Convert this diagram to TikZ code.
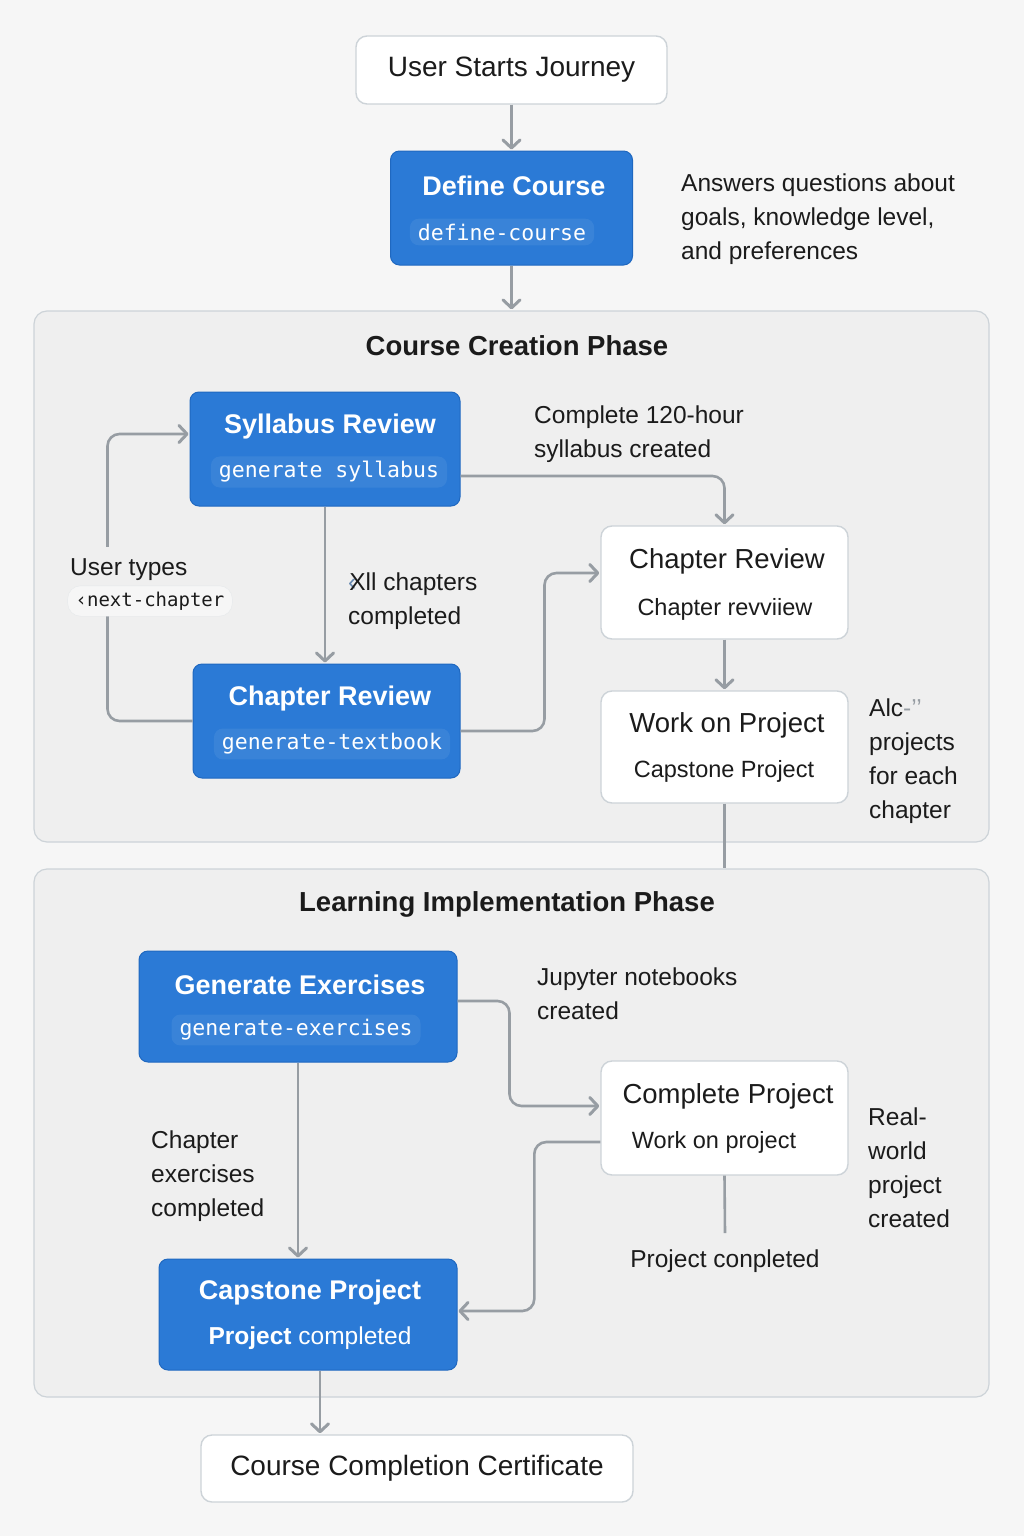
\documentclass[tikz,border=0pt]{standalone}
\usepackage{fontspec}
\setmainfont{Liberation Sans}
\setmonofont{DejaVu Sans Mono}
\usetikzlibrary{arrows.meta}
\definecolor{FlowBlue}{HTML}{2B7AD6}
\definecolor{FlowBlueEdge}{HTML}{1F68C0}
\definecolor{PageGray}{HTML}{F6F6F6}
\definecolor{PhaseGray}{HTML}{EFEFEF}
\definecolor{EdgeGray}{HTML}{CDD3D8}
\definecolor{LinkGray}{HTML}{979DA3}
\definecolor{InkBlack}{HTML}{1B1B1B}

\tikzset{
  bluebox/.style={draw=FlowBlueEdge, fill=FlowBlue, rounded corners=9pt, line width=1pt},
  whitebox/.style={draw=EdgeGray, fill=white, rounded corners=11pt, line width=1.4pt},
  phasebox/.style={draw=EdgeGray, fill=PhaseGray, rounded corners=13pt, line width=1.2pt},
  bluetitle/.style={text=white, font=\fontsize{27}{32}\selectfont\bfseries},
  bluecode/.style={text=white, font=\fontsize{21.5}{26}\selectfont\ttfamily, fill=white, fill opacity=0.07, text opacity=1, rounded corners=9pt, inner xsep=8pt, inner ysep=5pt},
  whitetitle/.style={text=InkBlack, font=\fontsize{27.5}{32}\selectfont},
  whitesub/.style={text=InkBlack, font=\fontsize{23.5}{28}\selectfont},
  phasetitle/.style={text=InkBlack, font=\fontsize{27.5}{32}\selectfont\bfseries},
  note/.style={text=InkBlack, font=\fontsize{24.5}{34}\selectfont, align=left, anchor=north west, inner sep=0pt},
  link/.style={draw=LinkGray, line width=2.6pt, rounded corners=12pt, -{Straight Barb[length=8pt,width=17pt,line width=3pt,round]}, shorten >=1pt},
  plainlink/.style={draw=LinkGray, line width=2.6pt},
}

\begin{document}
\begin{tikzpicture}[x=1pt, y=-1pt]
  \path[use as bounding box, fill=PageGray] (0,0) rectangle (1024,1536);

  % top of the journey
  \node[whitebox, minimum width=311pt, minimum height=68pt, font=\fontsize{28}{32}\selectfont, text=InkBlack] (start) at (511.5,70) {User Starts Journey};
  \node[bluebox, minimum width=242pt, minimum height=114pt] (define) at (511.5,208) {};
  \node[bluetitle] (defineT) at (514,186) {Define Course};
  \node[bluecode] (defineC) at (502,232) {define-course};
  \node[note] (goalsN) at (681,174) {Answers questions about\\goals, knowledge level,\\and preferences};

  % course creation phase
  \node[phasebox, minimum width=955pt, minimum height=531pt] (phaseA) at (511.5,576.5) {};
  \node[phasetitle] (phaseAT) at (517,346) {Course Creation Phase};

  \node[bluebox, minimum width=270pt, minimum height=114pt] (syl) at (325,449) {};
  \node[bluetitle] (sylT) at (330,427) {Syllabus Review};
  \node[bluecode] (sylC) at (329,472) {generate syllabus};
  \node[note] (sylN) at (534,406) {Complete 120-hour\\syllabus created};

  \node[bluebox, minimum width=267pt, minimum height=114pt] (chapB) at (326.5,721) {};
  \node[bluetitle] (chapBT) at (330,699) {Chapter Review};
  \node[bluecode] (chapBC) at (332,744) {generate-textbook};
  \node[note] (allN) at (348,573) {{\color{LinkGray!60!FlowBlueEdge}‹}\kern-7pt Xll chapters\\completed};

  \node[whitebox, minimum width=247pt, minimum height=113pt] (chapW) at (724.5,582.5) {};
  \node[whitetitle] (chapWT) at (727,561) {Chapter Review};
  \node[whitesub] (chapWS) at (725,609) {Chapter revviiew};

  \node[whitebox, minimum width=247pt, minimum height=112pt] (work) at (724.5,747) {};
  \node[whitetitle] (workT) at (727,725) {Work on Project};
  \node[whitesub] (workS) at (724,771) {Capstone Project};
  \node[note] (workN) at (869,699) {Alc{\color{LinkGray}-’’}\\projects\\for each\\chapter};

  % learning implementation phase
  \node[phasebox, minimum width=955pt, minimum height=528pt] (phaseB) at (511.5,1133) {};
  \node[phasetitle] (phaseBT) at (507,904) {Learning Implementation Phase};

  \node[bluebox, minimum width=318pt, minimum height=111pt] (genex) at (298,1006.5) {};
  \node[bluetitle] (genexT) at (300,985) {Generate Exercises};
  \node[bluecode] (genexC) at (296,1030) {generate-exercises};
  \node[note] (genexN) at (537,968) {Jupyter notebooks\\created};

  \node[whitebox, minimum width=247pt, minimum height=114pt] (comp) at (724.5,1118) {};
  \node[whitetitle] (compT) at (728,1096) {Complete Project};
  \node[whitesub] (compS) at (714,1142) {Work on project};
  \node[note] (compN) at (868,1108) {Real-\\world\\project\\created};
  \node[whitesub, font=\fontsize{24.5}{30}\selectfont] (pdone) at (725,1261) {Project conpleted};

  \node[note] (exN) at (151,1131) {Chapter\\exercises\\completed};
  \node[bluebox, minimum width=298pt, minimum height=111pt] (cap) at (308,1314.5) {};
  \node[bluetitle] (capT) at (310,1293) {Capstone Project};
  \node[text=white, font=\fontsize{24.5}{28}\selectfont] (capS) at (310,1338) {\textbf{Project} completed};

  \node[whitebox, minimum width=432pt, minimum height=67pt, font=\fontsize{28}{32}\selectfont, text=InkBlack] (cert) at (417,1468.5) {Course Completion Certificate};

  % connectors
  \draw[link] (start.south) -- (define.north);
  \draw[link] (define.south) -- (phaseA.north);
  \draw[link] ([yshift=-27pt]syl.east) -| (chapW.north);
  \draw[link] (syl.south) -- (syl.south |- chapB.north);
  \draw[link] (chapB.west) -- ++(-85,0) |- ([yshift=15pt]syl.west);
  \node[note, anchor=west, fill=PhaseGray, inner xsep=3pt, inner ysep=12pt] (typesN) at (67,570) {User types};
  \node[fill=PageGray, draw=EdgeGray!50, rounded corners=13pt, inner xsep=8pt, inner ysep=6pt, text=InkBlack, font=\fontsize{19}{24}\selectfont\ttfamily] (nextC) at (150,601) {‹next-chapter};
  \draw[link] ([yshift=-10pt]chapB.east) -- ++(84,0) |- ([yshift=9.5pt]chapW.west);
  \draw[link] (chapW.south) -- (work.north);
  \draw[plainlink] (work.south) -- (work.south |- phaseB.north);

  \draw[link] ([yshift=5.5pt]genex.east) -- ++(52,0) |- ([yshift=12pt]comp.west);
  \draw[plainlink] (comp.south) -- ([yshift=13pt]pdone.north);
  \draw[link] ([yshift=-24pt]comp.west) -- ++(-66,0) |- ([yshift=3.5pt]cap.east);
  \draw[link] (genex.south) -- (genex.south |- cap.north);
  \draw[link] ([xshift=12pt]cap.south) -- ([xshift=12pt]cap.south |- cert.north);
\end{tikzpicture}
\end{document}
